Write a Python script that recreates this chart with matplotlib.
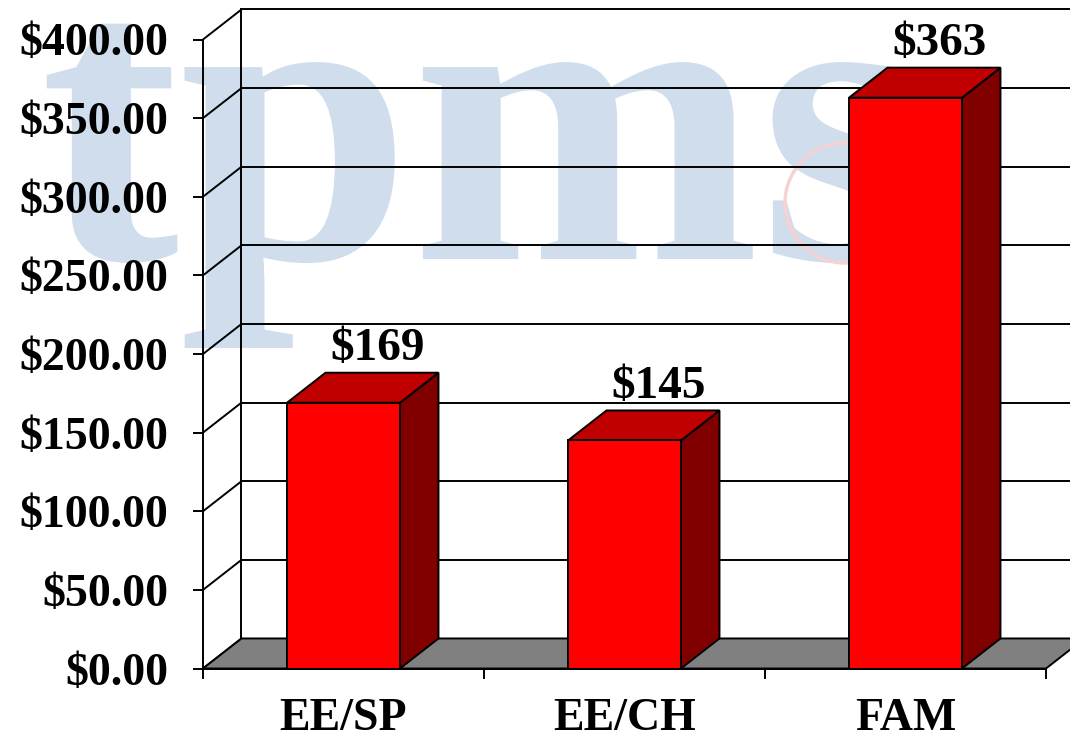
import matplotlib
import matplotlib.pyplot as plt
from matplotlib.patches import Polygon, Rectangle, PathPatch, Circle
from matplotlib.textpath import TextPath
from matplotlib.font_manager import FontProperties
from matplotlib.transforms import Affine2D

matplotlib.use('agg')

# premium by coverage tier
categories = ['EE/SP', 'EE/CH', 'FAM']
premiums = [169, 145, 363]
value_labels = ['$169', '$145', '$363']
y_ticks = [0, 50, 100, 150, 200, 250, 300, 350, 400]

FONT = 'Liberation Serif'
W, H = 1070, 739

# depth of the 3d box in data units (x: categories, y: dollars)
DX = 0.137
DY = 19.1
BAR_W = 0.402
EDGE = 1.4

fig = plt.figure(figsize=(W / 100, H / 100), dpi=100)
fig.patch.set_facecolor('white')

# faded logo behind the chart, laid out in pixel units
px = Affine2D().scale(1 / W, 1 / H) + fig.transFigure
prop = FontProperties(family=FONT, weight='bold')
logo = TextPath((0, 0), 'tpms', size=1, prop=prop)
logo_tf = Affine2D().scale(418, 418).translate(40, H - 259) + px
fig.add_artist(PathPatch(logo, transform=logo_tf, facecolor='#cfdded', edgecolor='none', zorder=-2))
ring = Circle((845, H - 203), 60, transform=px, facecolor='none',
              edgecolor='#f6d2d2', lw=2.5, zorder=-1)
fig.add_artist(ring)

ax = fig.add_axes([203 / W, (H - 668.5) / H, 843 / W, 629 / H])
ax.set_facecolor('none')
n = len(categories)
ax.set_xlim(0, n)
ax.set_ylim(0, 400)

# side wall and back wall gridlines
top = y_ticks[-1]
for v in y_ticks:
    ax.plot([0, DX], [v, v + DY], color='black', lw=EDGE, clip_on=False, zorder=1)
    if v > 0:
        ax.plot([DX, n + DX], [v + DY, v + DY], color='black', lw=EDGE, clip_on=False, zorder=1)
ax.plot([DX, DX], [DY, top + DY], color='black', lw=EDGE, clip_on=False, zorder=1)

# floor
floor = Polygon([(0, 0), (n, 0), (n + DX, DY), (DX, DY)], closed=True,
                facecolor='#808080', edgecolor='black', lw=EDGE, clip_on=False, zorder=2)
ax.add_patch(floor)

# bars
for i, v in enumerate(premiums):
    x0 = i + 0.5 - BAR_W / 2
    x1 = x0 + BAR_W
    side = Polygon([(x1, 0), (x1 + DX, DY), (x1 + DX, v + DY), (x1, v)], closed=True,
                   facecolor='#800000', edgecolor='black', lw=EDGE, clip_on=False, zorder=3)
    lid = Polygon([(x0, v), (x1, v), (x1 + DX, v + DY), (x0 + DX, v + DY)], closed=True,
                  facecolor='#c00000', edgecolor='black', lw=EDGE, clip_on=False, zorder=3)
    face = Rectangle((x0, 0), BAR_W, v, facecolor='#ff0000', edgecolor='black',
                     lw=EDGE, clip_on=False, zorder=4)
    ax.add_patch(side)
    ax.add_patch(lid)
    ax.add_patch(face)
    ax.text(i + 0.5 + 0.12, v + DY + 8, value_labels[i], ha='center', va='baseline',
            fontsize=34, fontweight='bold', family=FONT, zorder=5)

for s in ['top', 'right']:
    ax.spines[s].set_visible(False)
for s in ['left', 'bottom']:
    ax.spines[s].set_linewidth(EDGE)
    ax.spines[s].set_zorder(2.5)

ax.set_yticks(y_ticks)
ax.set_yticklabels(['${:,.2f}'.format(v) for v in y_ticks])
ax.set_xticks(range(n + 1))
ax.set_xticklabels([])
ax.set_xticks([i + 0.5 for i in range(n)], minor=True)
ax.set_xticklabels(categories, minor=True)
ax.tick_params(axis='y', length=7, width=EDGE, pad=18)
ax.tick_params(axis='x', which='major', length=7, width=EDGE)
ax.tick_params(axis='x', which='minor', length=0, pad=21)
for lab in ax.get_yticklabels() + ax.get_xticklabels(minor=True):
    lab.set_fontfamily(FONT)
    lab.set_fontweight('bold')
    lab.set_fontsize(33)

plt.savefig('out.png', dpi=100)
plt.close()
